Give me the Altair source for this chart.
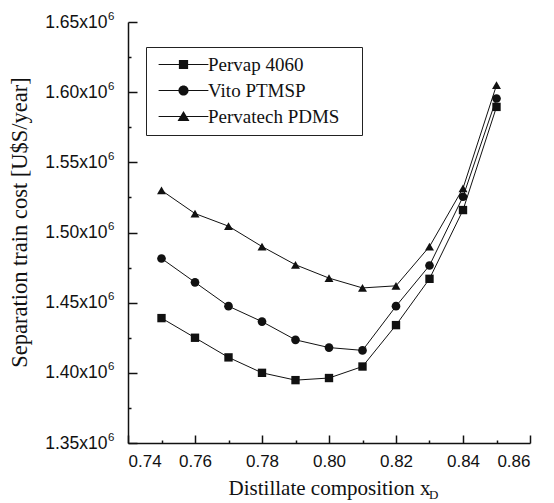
import altair as alt
import pandas as pd

# ---- data ----
x_values = [0.75, 0.76, 0.77, 0.78, 0.79, 0.80, 0.81, 0.82, 0.83, 0.84, 0.85]
pervap_4060 = [1439000, 1425000, 1411000, 1400000, 1394800, 1396300, 1404500,
               1434000, 1467000, 1516000, 1589500]
vito_ptmsp = [1481500, 1464500, 1447500, 1436500, 1423500, 1418000, 1416000,
              1447500, 1476500, 1525500, 1595500]
pervatech_pdms = [1530000, 1513500, 1504500, 1490000, 1477000, 1467500, 1460500,
                  1462000, 1490000, 1531500, 1605000]
series_names = ["Pervap 4060", "Vito PTMSP", "Pervatech PDMS"]

x_label_values = [0.74, 0.76, 0.78, 0.80, 0.82, 0.84, 0.86]
x_tick_values = [0.74, 0.75, 0.76, 0.77, 0.78, 0.79, 0.80, 0.81, 0.82, 0.83,
                 0.84, 0.85, 0.86]
y_label_values = [1350000, 1400000, 1450000, 1500000, 1550000, 1600000, 1650000]
y_tick_values = [1350000, 1375000, 1400000, 1425000, 1450000, 1475000, 1500000,
                 1525000, 1550000, 1575000, 1600000, 1625000, 1650000]
subscript_text = ["D"]

rows = []
for name, vals in zip(series_names, [pervap_4060, vito_ptmsp, pervatech_pdms]):
    for xv, yv in zip(x_values, vals):
        rows.append({"series": name, "xD": xv, "cost": yv})
df = pd.DataFrame(rows)

W, H = 402, 421
INK = "#111111"
xscale = alt.Scale(domain=[0.74, 0.86], nice=False, zero=False)
yscale = alt.Scale(domain=[1350000, 1650000], nice=False, zero=False)

# legend symbols: line segment through the marker
seg = "M-5.4,-0.12H5.4V0.12H-5.4Z "
sq_path = seg + "M-1,-1H1V1H-1Z"
ci_path = seg + "M-1.1,0A1.1,1.1 0 1,1 1.1,0A1.1,1.1 0 1,1 -1.1,0Z"
tr_path = seg + "M0,-1.2L1.3,1.0L-1.3,1.0Z"

lines = alt.Chart(df).mark_line(color=INK, strokeWidth=1).encode(
    x=alt.X("xD:Q", scale=xscale, axis=alt.Axis(
        orient="bottom", values=x_label_values, format=".2f", ticks=False,
        domainColor=INK, domainWidth=1.5, grid=False,
        labelFont="Liberation Sans", labelFontSize=17, labelColor=INK,
        labelPadding=10,
        title="Distillate composition x\u00a0\u00a0", titleFont="Liberation Serif",
        titleFontSize=21, titleFontWeight="normal", titleColor=INK,
        titlePadding=8)),
    y=alt.Y("cost:Q", scale=yscale, axis=alt.Axis(
        orient="left", values=y_label_values,
        labelExpr="format(datum.value / 1000000, '.2f') + 'x10'",
        ticks=False, domainColor=INK, domainWidth=1.5, grid=False,
        labelFont="Liberation Sans", labelFontSize=17.5, labelColor=INK,
        labelPadding=21,
        title="Separation train cost [U$S/year]", titleFont="Liberation Serif",
        titleFontSize=22.5, titleFontWeight="normal", titleColor=INK,
        titlePadding=13, titleY=200)),
    detail="series:N",
)

tick_x = {"condition": {"test": "round(datum.value * 100) % 2 === 0", "value": 8}, "value": 3}
tick_y = {"condition": {"test": "round(datum.value / 25000) % 2 === 0", "value": 9}, "value": 3}

points = alt.Chart(df).mark_point(filled=True, opacity=1, color=INK).encode(
    x=alt.X("xD:Q", scale=xscale, axis=alt.Axis(
        orient="top", offset=-H, values=x_tick_values, labels=False, domain=False,
        ticks=True, tickSize=tick_x, tickColor=INK, tickWidth=1.5, grid=False,
        title=None)),
    y=alt.Y("cost:Q", scale=yscale, axis=alt.Axis(
        orient="right", offset=-W, values=y_tick_values, labels=False, domain=False,
        ticks=True, tickSize=tick_y, tickColor=INK, tickWidth=1.5, grid=False,
        title=None)),
    shape=alt.Shape("series:N", scale=alt.Scale(domain=series_names,
                    range=["square", "circle", "triangle-up"]), legend=None),
    size=alt.Size("series:N", scale=alt.Scale(domain=series_names,
                  range=[70, 80, 120]), legend=None),
)

legend_layer = alt.Chart(df).transform_filter("datum.xD < 0").mark_point(
    filled=True, color=INK).encode(
    x=alt.X("xD:Q", scale=xscale, axis=None),
    # exponent "6" of the y tick labels
    y=alt.Y("cost:Q", scale=yscale, axis=alt.Axis(
        orient="left", values=y_label_values, labelExpr="'6'",
        ticks=False, domain=False, grid=False, title=None,
        labelFont="Liberation Sans", labelFontSize=11.5, labelColor=INK,
        labelPadding=14, labelOffset=-6)),
    shape=alt.Shape("series:N", scale=alt.Scale(domain=series_names,
                    range=[sq_path, ci_path, tr_path]),
                    legend=alt.Legend(
                        orient="none", legendX=18, legendY=25, title=None,
                        symbolSize=85, symbolFillColor=INK,
                        symbolStrokeColor=INK, symbolStrokeWidth=0.5,
                        symbolOpacity=1, symbolOffset=20, labelOffset=15,
                        labelFont="Liberation Serif", labelFontSize=19,
                        labelColor=INK, labelLimit=400, rowPadding=6, padding=8,
                        strokeColor="#222222", fillColor="white",
                        labelExpr="datum.label + '\u2800'")),
)

sub = alt.Chart(pd.DataFrame({"t": subscript_text})).mark_text(
    font="Liberation Serif", fontSize=13, color=INK, align="left",
    baseline="alphabetic").encode(
    text="t:N", x=alt.value(301), y=alt.value(477))

chart = alt.layer(lines, points, legend_layer, sub).resolve_scale(
    shape="independent", size="independent"
).resolve_axis(x="independent", y="independent").properties(
    width=W, height=H,
    padding={"left": 0, "top": 2, "right": 5, "bottom": 5},
).configure_view(stroke=None)

chart.save("out.html", embed_options={"renderer": "svg", "actions": False})
